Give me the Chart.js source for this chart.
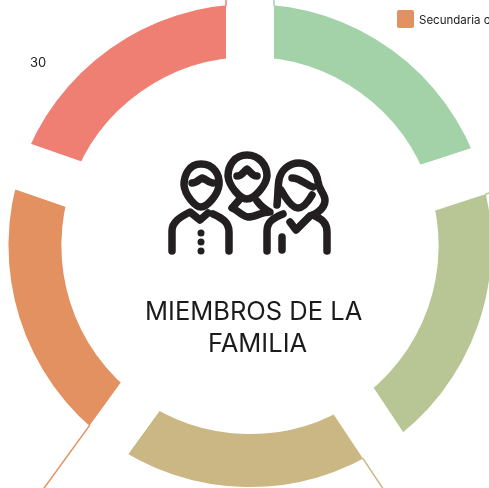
<!DOCTYPE html>
<html>
<head>
<meta charset="utf-8">
<script src="https://cdn.jsdelivr.net/npm/chart.js@4"></script>
<style>
  html, body { margin: 0; padding: 0; background: #fff; overflow: hidden; }
  #wrap { position: relative; width: 489px; height: 488px; overflow: hidden; font-family: Inter, sans-serif; color: #1c1a1b; }
  #chart { position: absolute; left: 0; top: 0; }
  .title { position: absolute; white-space: nowrap; font-size: 25.5px; line-height: 32px; }
  #icon { position: absolute; left: 0; top: 0; }
  #valueLabel { position: absolute; left: 30px; top: 54px; font-size: 13px; line-height: 16px; }
  #legend { position: absolute; left: 397px; top: 10px; width: 92px; height: 18px; overflow: hidden; white-space: nowrap; font-size: 11.5px; line-height: 19px; }
  #legend i { position: absolute; left: 0; top: 0; width: 17px; height: 18px; border-radius: 2px; }
  #legend span { position: absolute; left: 22px; top: 1px; }
</style>
</head>
<body>
<div id="wrap">
  <canvas id="chart" width="489" height="488"></canvas>
  <svg id="icon" width="489" height="488" fill="none" stroke="#231f20" stroke-width="7.5" stroke-linecap="round" stroke-linejoin="round">
    <path d="M201 164C189 164 184 175 184 185C185 195 195 207 201 207C207 207 218 195 219 185C220 175 214 164 201 164Z"/>
    <path d="M192 183C197 183 199 179 202 178C206 179 209 183 213 183"/>
    <path d="M172 251V231C172 222 180 217 190 212L200 220L208 213"/>
    <path d="M213 214C222 218 229 222 229 232V251"/>
    <path d="M247 155C235 155 228 165 228 176C229 186 240 199 247 199C254 199 266 186 267 176C267 165 259 155 247 155Z"/>
    <path d="M237 176C242 176 244 171 247 169C250 171 252 176 257 176"/>
    <path d="M240 199L232 208C238 210 241 216 248 217C255 217 262 212 270 212C264 209 260 205 257 201"/>
    <path d="M277 205C278 195 278 185 279 180C281 170 289 163 299 163C310 163 317 172 318 182C319 190 325 194 325 200C325 207 319 212 313 215"/>
    <path d="M292 178C300 178 306 185 313 187"/>
    <path d="M281 190C285 197 292 208 298 208C303 208 308 202 312 195"/>
    <path d="M267 251V231C267 222 273 218 283 214"/>
    <path d="M313 215C322 219 327 223 327 232V251"/>
    <path d="M290 222L296 230L310 216"/>
    <path d="M282 237V250"/>
    <g fill="#231f20" stroke="none">
      <circle cx="201" cy="233" r="3.5"/><circle cx="201" cy="242" r="3.5"/><circle cx="201" cy="251" r="3.5"/>
    </g>
  </svg>
  <div class="title" id="title1" style="left:145px;top:295px"></div>
  <div class="title" id="title2" style="left:208px;top:327px"></div>
  <div id="valueLabel"></div>
  <div id="legend"></div>
</div>
<script>
// Data
const categories = ["", "", "", "Secundaria completa", ""];
const memberValues = [30.5, 31.5, 29.5, 31, 30];
const sliceColors = ["#a3d2a8", "#b8c695", "#cab784", "#e39161", "#ef7e73"];
const titleLines = ["MIEMBROS DE LA", "FAMILIA"];
const legendIndex = 3;
const labelIndex = 4;
// slice edges that carry a thin line running outward
const leaderEdges = [[0, "start"], [1, "start"], [2, "start"], [3, "start"], [4, "end"]];

// the gaps are a wide white border around each slice
const gap = 48;

// Leader lines, continue the slice edge out of the ring
const leaderLines = {
  id: "leaderLines",
  afterDatasetsDraw(chart) {
    const ctx = chart.ctx;
    const arcs = chart.getDatasetMeta(0).data;
    ctx.save();
    ctx.lineWidth = 1.5;
    leaderEdges.forEach(function (edge) {
      const arc = arcs[edge[0]];
      const isStart = edge[1] === "start";
      const a = isStart ? arc.startAngle : arc.endAngle;
      const side = (isStart ? 1 : -1) * gap / 2;
      const r1 = arc.outerRadius - gap / 2 - 2;
      const r2 = r1 + 120;
      const nx = -Math.sin(a) * side;
      const ny = Math.cos(a) * side;
      ctx.strokeStyle = sliceColors[edge[0]];
      ctx.beginPath();
      ctx.moveTo(arc.x + Math.cos(a) * r1 + nx, arc.y + Math.sin(a) * r1 + ny);
      ctx.lineTo(arc.x + Math.cos(a) * r2 + nx, arc.y + Math.sin(a) * r2 + ny);
      ctx.stroke();
    });
    ctx.restore();
  },
};

new Chart(document.getElementById("chart"), {
  type: "doughnut",
  data: {
    labels: categories,
    datasets: [
      {
        data: memberValues,
        backgroundColor: sliceColors,
        borderColor: "#ffffff",
        borderWidth: gap,
        clip: false,
      },
    ],
  },
  options: {
    responsive: false,
    animation: false,
    radius: 265.5,
    cutout: "62%",
    layout: { padding: { left: 11, top: 3 } },
    plugins: { legend: { display: false }, tooltip: { enabled: false } },
  },
  plugins: [leaderLines],
});

document.getElementById("title1").textContent = titleLines[0];
document.getElementById("title2").textContent = titleLines[1];
document.getElementById("valueLabel").textContent = memberValues[labelIndex];
const legend = document.getElementById("legend");
const swatch = document.createElement("i");
swatch.style.background = sliceColors[legendIndex];
const legendText = document.createElement("span");
legendText.textContent = categories[legendIndex];
legend.append(swatch, legendText);
</script>
</body>
</html>
